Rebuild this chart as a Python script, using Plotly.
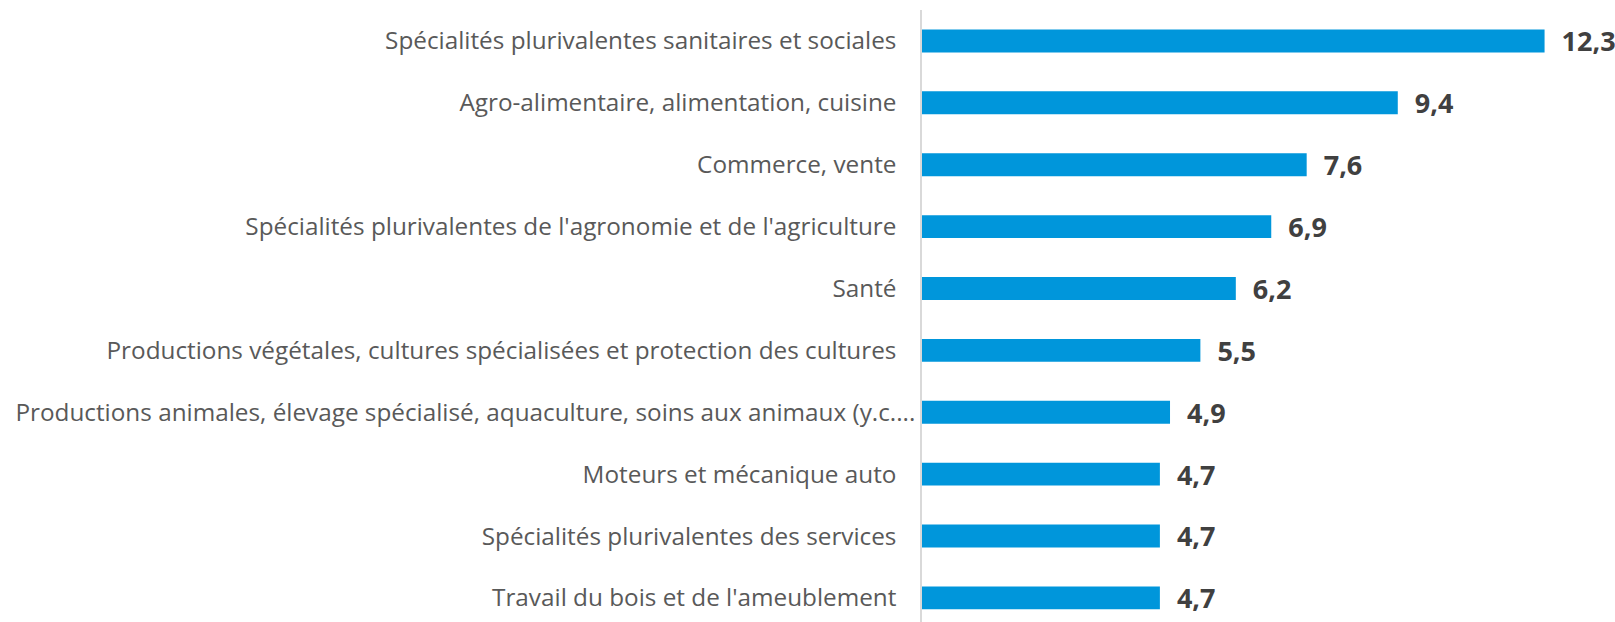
import plotly.graph_objects as go

categories = [
    "Spécialités plurivalentes sanitaires et sociales",
    "Agro-alimentaire, alimentation, cuisine",
    "Commerce, vente",
    "Spécialités plurivalentes de l'agronomie et de l'agriculture",
    "Santé",
    "Productions végétales, cultures spécialisées et protection des cultures",
    "Productions animales, élevage spécialisé, aquaculture, soins aux animaux (y.c....",
    "Moteurs et mécanique auto",
    "Spécialités plurivalentes des services",
    "Travail du bois et de l'ameublement",
]
values = [12.3, 9.4, 7.6, 6.9, 6.2, 5.5, 4.9, 4.7, 4.7, 4.7]

NBSP = "\u00a0"
# value labels in French decimal notation, set slightly apart from the bar end
value_labels = [NBSP * 2 + f"{v:.1f}".replace(".", ",") for v in values]
# truncated label sits closer to the axis than the others
tick_text = [c if c.endswith("....") else c + NBSP * 3 for c in categories]

positions = list(range(len(categories)))

fig = go.Figure(
    go.Bar(
        x=values,
        y=positions,
        orientation="h",
        marker=dict(color="#0096DB", line=dict(width=0)),
        width=0.37,
        text=value_labels,
        textposition="outside",
        constraintext="none",
        textfont=dict(family="Open Sans", size=27, color="#404040", weight="bold"),
        cliponaxis=False,
    )
)

fig.update_layout(
    width=1615,
    height=622,
    margin=dict(l=922, r=35, t=10, b=0),
    plot_bgcolor="white",
    paper_bgcolor="white",
    showlegend=False,
    font=dict(family="Open Sans", size=24.3, color="#595959"),
)

fig.update_xaxes(
    range=[0, 13],
    showgrid=False,
    zeroline=False,
    showticklabels=False,
    showline=False,
)

fig.update_yaxes(
    tickmode="array",
    tickvals=positions,
    ticktext=tick_text,
    range=[9.39, -0.5],
    showgrid=False,
    zeroline=False,
    showline=True,
    linecolor="#D9D9D9",
    linewidth=1.5,
    ticks="",
    ticklabelstandoff=0,
)

fig.write_html("out.html")
